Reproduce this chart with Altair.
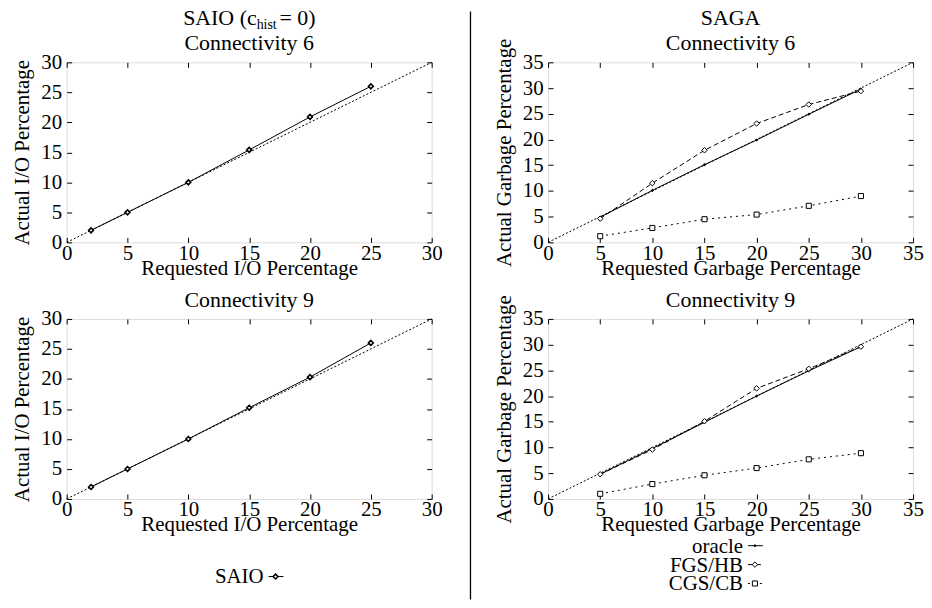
import altair as alt
import pandas as pd

FONT = "Liberation Serif"
W, H = 367, 181

# ---- data ----
saio_x = [2, 5, 10, 15, 20, 25]
saio_c6 = [2.0, 5.0, 10.0, 15.4, 20.9, 26.0]
saio_c9 = [2.0, 5.0, 10.0, 15.2, 20.3, 26.0]

saga_x = [5, 10, 15, 20, 25, 30]
oracle_c6 = [4.9, 10.1, 15.1, 19.9, 24.9, 29.8]
fgs_c6 = [4.6, 11.5, 17.9, 23.1, 26.8, 29.4]
cgs_c6 = [1.2, 2.8, 4.5, 5.4, 7.1, 9.0]
oracle_c9 = [4.8, 9.8, 14.9, 20.0, 24.9, 29.6]
fgs_c9 = [4.8, 9.6, 15.1, 21.5, 25.3, 29.6]
cgs_c9 = [1.0, 2.9, 4.6, 6.0, 7.7, 8.9]

diag_left = [0, 30]
diag_right = [0, 35]

left_ticks = [0, 5, 10, 15, 20, 25, 30]
right_ticks = [0, 5, 10, 15, 20, 25, 30, 35]

panel_titles = ["Connectivity 6", "Connectivity 9"]
left_xtitle = "Requested I/O Percentage"
left_ytitle = "Actual I/O Percentage"
right_xtitle = "Requested Garbage Percentage"
right_ytitle = "Actual Garbage Percentage"

# series styles: dash, shape, size, filled
style = {
    "SAIO": (None, "diamond", 24, False),
    "oracle": (None, "diamond", 10, True),
    "FGS/HB": ([5, 3], "diamond", 30, False),
    "CGS/CB": ([2, 4], "square", 26, False),
}


def text_layer(txt, x, y, size=22, align="center"):
    return alt.Chart(pd.DataFrame({"t": [txt]})).mark_text(
        font=FONT, fontSize=size, align=align, baseline="alphabetic", color="black"
    ).encode(text="t:N", x=alt.value(x), y=alt.value(y))


def point_mark(df, shape, size, filled, sw=1.0):
    if filled:
        return alt.Chart(df).mark_point(shape=shape, size=size, filled=True, color="black", opacity=1)
    return alt.Chart(df).mark_point(shape=shape, size=size, filled=True, fill="white",
                                    stroke="black", strokeWidth=sw, opacity=1)


def panel(xmax, ticks, xtitle, ytitle, series, diag, title, extra=None):
    sx = alt.Scale(domain=[0, xmax], nice=False, zero=False)
    sy = alt.Scale(domain=[0, xmax], nice=False, zero=False)
    common = dict(values=ticks, offset=-5, tickSize=5, tickColor="black", tickWidth=1,
                  domain=False, grid=False, labelFont=FONT, labelFontSize=21, labelFlush=False,
                  labelColor="black", titleFont=FONT, titleFontSize=21,
                  titleFontWeight="normal", titleColor="black")
    xb = alt.Axis(orient="bottom", title=xtitle, labelPadding=0, titlePadding=-6, **common)
    yl = alt.Axis(orient="left", title=ytitle, labelPadding=5, titlePadding=8, **common)
    xt = alt.Axis(orient="top", title=None, labels=False, **common)
    yr = alt.Axis(orient="right", title=None, labels=False, **common)

    diag_df = pd.DataFrame({"x": diag, "y": diag})
    layers = [alt.Chart(diag_df).mark_line(color="black", strokeWidth=1, strokeDash=[2, 2]).encode(
        x=alt.X("x:Q", scale=sx, axis=xb), y=alt.Y("y:Q", scale=sy, axis=yl))]
    points = []
    for i, (name, xs, ys) in enumerate(series):
        dash, shape, size, filled = style[name]
        df = pd.DataFrame({"x": xs, "y": ys})
        lkw = dict(color="black", strokeWidth=1)
        if dash:
            lkw["strokeDash"] = dash
        layers.append(alt.Chart(df).mark_line(**lkw).encode(
            x=alt.X("x:Q", scale=sx, axis=xt if i == 0 else None),
            y=alt.Y("y:Q", scale=sy, axis=yr if i == 0 else None)))
        sw = 1.6 if name == "SAIO" else 1.0
        points.append(point_mark(df, shape, size, filled, sw).encode(
            x=alt.X("x:Q", scale=sx, axis=None), y=alt.Y("y:Q", scale=sy, axis=None)))
    layers += points
    layers.append(text_layer(title, W / 2, -12))
    if extra:
        layers += extra
    return alt.layer(*layers).resolve_axis(x="independent", y="independent").properties(
        width=W, height=H)


def legend_layers(names, lx, y0, dy):
    out = []
    for i, name in enumerate(names):
        dash, shape, size, filled = style[name]
        y = y0 + i * dy
        out.append(text_layer(name, lx, y + 7, size=21, align="right"))
        rkw = dict(color="black", strokeWidth=1)
        if dash:
            rkw["strokeDash"] = dash
        one = pd.DataFrame({"t": [name]})
        out.append(alt.Chart(one).mark_rule(**rkw).encode(
            x=alt.value(lx + 5), x2=alt.value(lx + 20), y=alt.value(y)))
        sw = 1.6 if name == "SAIO" else 1.0
        out.append(point_mark(one, shape, size, filled, sw).encode(x=alt.value(lx + 12), y=alt.value(y)))
    return out


# headers and divider (decorations)
left_header = [
    text_layer("SAIO (c", 191, -38, align="right"),
    text_layer("hist", 191, -34, size=14, align="left"),
    text_layer("= 0)", 214, -38, align="left"),
    alt.Chart(pd.DataFrame({"t": [0]})).mark_rule(color="black", strokeWidth=1.3).encode(
        x=alt.value(W + 39), y=alt.value(-51), y2=alt.value(540)),
]
right_header = [text_layer("SAGA", W / 2, -38)]

L6 = panel(30, left_ticks, left_xtitle, left_ytitle, [("SAIO", saio_x, saio_c6)], diag_left,
           panel_titles[0], left_header)
L9 = panel(30, left_ticks, left_xtitle, left_ytitle, [("SAIO", saio_x, saio_c9)], diag_left,
           panel_titles[1], legend_layers(["SAIO"], 198, 259, 19))
R6 = panel(35, right_ticks, right_xtitle, right_ytitle,
           [("oracle", saga_x, oracle_c6), ("FGS/HB", saga_x, fgs_c6), ("CGS/CB", saga_x, cgs_c6)],
           diag_right, panel_titles[0], right_header)
R9 = panel(35, right_ticks, right_xtitle, right_ytitle,
           [("oracle", saga_x, oracle_c9), ("FGS/HB", saga_x, fgs_c9), ("CGS/CB", saga_x, cgs_c9)],
           diag_right, panel_titles[1], legend_layers(["oracle", "FGS/HB", "CGS/CB"], 196, 228, 19))

chart = alt.ConcatChart(
    concat=[L6, R6, L9, R9], columns=2,
    spacing=alt.RowColnumber(row=77, column=117), bounds="flush",
    padding={"left": 3, "top": -4, "right": 0, "bottom": 0}
).configure_view(stroke="#333333", strokeWidth=1.5).configure(background="white")

chart.save("out.html", embed_options={"renderer": "svg", "actions": False})
